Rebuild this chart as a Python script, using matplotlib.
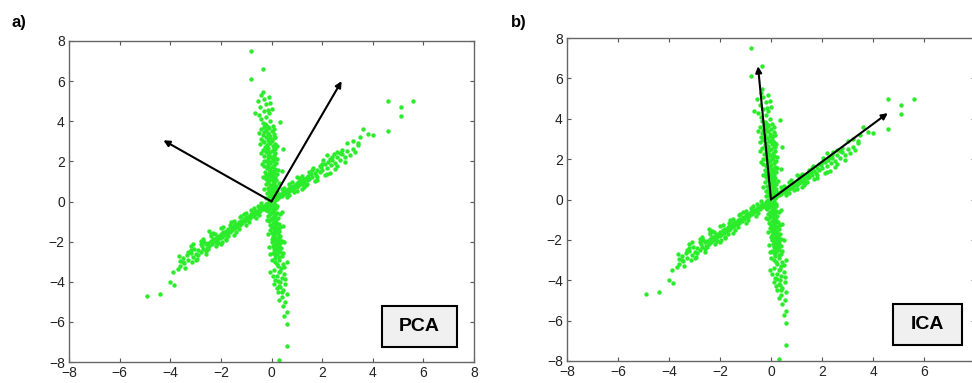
import numpy as np
import matplotlib.pyplot as plt
from matplotlib.patches import Rectangle

plt.rcParams['font.family'] = ['Liberation Sans', 'DejaVu Sans']

# --- Data (same cloud in both panels) ---
# near-vertical arm, upper half (x, y)
vert_upper = [
    (0.08, 0.12), (-0.1, 0.2), (0.15, 0.25), (-0.02, 0.3), (0.1, 0.35), (-0.18, 0.4), (0.04, 0.45),
    (0.2, 0.5), (-0.08, 0.55), (0.12, 0.6), (-0.15, 0.65), (0.02, 0.7), (0.18, 0.75), (-0.05, 0.8),
    (-0.22, 0.85), (0.1, 0.9), (-0.12, 0.95), (0.05, 1.0), (0.16, 1.05), (-0.2, 1.1), (-0.03, 1.15),
    (0.12, 1.2), (-0.14, 1.25), (0.02, 1.3), (0.2, 1.35), (-0.1, 1.4), (-0.25, 1.45), (0.08, 1.5),
    (-0.04, 1.55), (0.15, 1.6), (-0.18, 1.65), (0.0, 1.7), (-0.3, 1.75), (0.1, 1.8), (-0.12, 1.85),
    (0.18, 1.9), (-0.06, 1.95), (-0.22, 2.0), (0.05, 2.05), (-0.15, 2.1), (0.12, 2.15), (-0.02, 2.2),
    (-0.28, 2.25), (0.08, 2.3), (-0.1, 2.35), (0.15, 2.4), (-0.2, 2.45), (0.0, 2.5), (-0.35, 2.55),
    (0.1, 2.6), (-0.12, 2.65), (-0.25, 2.7), (0.05, 2.75), (-0.18, 2.8), (0.12, 2.85), (-0.05, 2.9),
    (-0.3, 2.95), (0.02, 3.0), (-0.15, 3.05), (-0.4, 3.1), (0.08, 3.15), (-0.22, 3.2), (-0.05, 3.25),
    (-0.35, 3.3), (0.1, 3.35), (-0.15, 3.4), (-0.3, 3.45), (0.0, 3.5), (-0.2, 3.55), (-0.42, 3.6),
    (-0.1, 3.65), (-0.28, 3.7), (0.05, 3.75), (-0.2, 3.8), (-0.05, 0.52), (0.06, 1.12), (-0.08, 1.62),
    (-0.14, 2.28), (-0.08, 2.92), (-0.12, 3.38), (0.0, 0.82), (-0.04, 1.92), (-0.2, 1.3), (0.14, 2.62),
    (0.25, 0.3), (-0.3, 0.6), (0.28, 0.9), (-0.32, 1.2), (0.25, 1.55), (-0.38, 1.85), (0.22, 2.1),
    (-0.42, 2.4), (0.2, 2.75), (-0.45, 2.85), (0.15, 3.2), (-0.5, 3.4), (0.1, 3.6), (-0.15, 0.4),
    (0.12, 0.7), (-0.1, 1.05), (0.1, 1.4), (-0.14, 1.75), (0.06, 2.0), (-0.18, 2.55), (-0.05, 3.15),
    (-0.25, 3.85), (0.0, 0.6), (-0.02, 1.25), (0.02, 1.45), (-0.3, 2.0), (-0.08, 2.45), (-0.32, 3.0),
    (-0.12, 3.7),
    (-0.35, 3.9), (-0.05, 4.0), (-0.4, 4.1), (-0.2, 4.2), (-0.5, 4.3), (-0.1, 4.4), (-0.3, 4.5),
    (0.0, 4.6), (-0.45, 4.7), (-0.2, 4.85), (-0.55, 5.0), (-0.3, 5.1), (-0.1, 5.2), (-0.4, 5.3),
    (-0.35, 5.45), (-0.15, 4.55), (0.35, 3.95), (0.45, 2.6), (0.4, 1.5), (-0.35, 6.6), (-0.8, 6.1),
    (-0.8, 7.5), (-0.65, 4.4), (-0.05, 4.9),
]
# near-vertical arm, lower half (x, y)
vert_lower = [
    (-0.05, -0.1), (0.12, -0.15), (-0.12, -0.2), (0.05, -0.25), (0.18, -0.3), (-0.08, -0.35),
    (0.1, -0.4), (-0.15, -0.45), (0.02, -0.5), (0.2, -0.55), (-0.05, -0.6), (0.14, -0.65),
    (-0.12, -0.7), (0.08, -0.75), (0.25, -0.8), (-0.02, -0.85), (0.12, -0.9), (-0.1, -0.95),
    (0.18, -1.0), (0.04, -1.05), (0.28, -1.1), (-0.06, -1.15), (0.12, -1.2), (0.0, -1.25),
    (0.22, -1.3), (0.08, -1.35), (-0.05, -1.4), (0.3, -1.45), (0.15, -1.5), (0.02, -1.55),
    (0.24, -1.6), (0.1, -1.65), (0.35, -1.7), (0.05, -1.75), (0.18, -1.8), (0.28, -1.85),
    (0.08, -1.9), (0.2, -1.95), (0.02, -2.0), (0.32, -2.05), (0.14, -2.1), (0.25, -2.15),
    (0.06, -2.2), (0.2, -2.25), (0.38, -2.3), (0.1, -2.35), (0.26, -2.4), (0.15, -2.45),
    (0.32, -2.5), (0.05, -2.55), (0.2, -2.6), (0.4, -2.7), (0.15, -2.8), (0.3, -2.9),
    (0.12, -3.0), (0.45, -3.1), (0.25, -3.2), (0.38, -3.3), (0.1, -3.4), (0.3, -3.5),
    (0.5, -3.6), (0.22, -3.7), (0.4, -3.8), (0.15, -3.9), (0.35, -4.0), (0.55, -4.1), (0.3, -4.2),
    (0.08, -0.72), (0.16, -1.12), (0.12, -1.42), (0.2, -2.02), (0.1, -1.02), (0.06, -0.32),
    (0.22, -2.35), (0.3, -2.75),
    (-0.2, -0.4), (0.32, -0.6), (-0.18, -0.9), (0.35, -1.25), (-0.12, -1.6), (0.4, -1.95),
    (-0.08, -2.25), (0.45, -2.55), (0.0, -2.9), (0.5, -3.25), (0.05, -3.7), (0.55, -3.85),
    (0.1, -4.1), (0.1, -0.55), (0.0, -0.8), (0.2, -1.35), (0.0, -1.85), (0.28, -1.75),
    (0.12, -2.65), (0.35, -3.45), (0.25, -3.95), (0.15, -0.98), (0.05, -1.55), (0.3, -2.2),
    (0.2, -3.1), (0.4, -4.5), (0.35, -4.25),
    (0.2, -4.3), (0.45, -4.4), (0.25, -4.5), (0.6, -4.6), (0.4, -4.75), (0.3, -4.9), (0.55, -5.0),
    (0.45, -5.2), (0.6, -5.5), (0.5, -5.7), (0.6, -6.1), (0.6, -7.2), (0.3, -7.9), (0.6, -3.0),
    (0.5, -2.0), (0.45, -1.2), (0.4, -0.5), (-0.05, -3.5), (-0.05, -2.6),
]
# dense centre where the two arms cross (x, y)
centre = [
    (0.0, 0.05), (0.1, -0.05), (-0.1, 0.0), (0.05, -0.15), (-0.05, 0.15), (0.15, 0.05),
    (-0.15, -0.05), (0.0, -0.3), (0.2, -0.2), (-0.2, 0.15), (0.08, 0.22), (-0.08, -0.22),
]
# diagonal arm, lower-left half (x, y)
diag_lower = [
    (-0.1, -0.12), (-0.2, -0.1), (-0.25, -0.3), (-0.3, -0.2), (-0.35, -0.35), (-0.4, -0.28),
    (-0.45, -0.45), (-0.5, -0.38), (-0.55, -0.52), (-0.6, -0.45), (-0.65, -0.62), (-0.7, -0.5),
    (-0.75, -0.7), (-0.8, -0.6), (-0.85, -0.8), (-0.9, -0.7), (-0.95, -0.88), (-1.0, -0.78),
    (-1.05, -0.98), (-1.1, -0.85), (-1.15, -1.05), (-1.2, -0.95), (-1.25, -1.15), (-1.3, -1.0),
    (-1.35, -1.22), (-1.4, -1.1), (-1.45, -1.3), (-1.5, -1.15), (-1.55, -1.4), (-1.6, -1.28),
    (-1.65, -1.5), (-1.7, -1.35), (-1.75, -1.55), (-1.8, -1.45), (-1.85, -1.68), (-1.9, -1.5),
    (-1.95, -1.75), (-2.0, -1.6), (-2.05, -1.82), (-2.1, -1.7), (-2.15, -1.95), (-2.2, -1.8),
    (-2.25, -2.02), (-2.3, -1.85), (-2.35, -2.1), (-2.4, -1.95), (-2.45, -2.2), (-2.5, -2.05),
    (-2.55, -2.3), (-2.6, -2.1), (-2.7, -2.35), (-2.75, -2.2), (-2.8, -2.5), (-2.9, -2.4),
    (-3.0, -2.6), (-3.05, -2.35), (-3.1, -2.75), (-3.2, -2.55), (-3.3, -2.9), (-3.35, -2.65),
    (-3.45, -3.05), (-3.5, -2.8), (-3.6, -3.2), (-3.65, -2.7), (-3.7, -3.35),
    (-0.62, -0.55), (-0.92, -0.8), (-1.22, -1.05), (-1.52, -1.3), (-1.82, -1.58), (-2.12, -1.82),
    (-0.32, -0.28), (-0.78, -0.62), (-1.38, -1.18),
    (-0.4, -0.05), (-0.6, -0.8), (-0.8, -0.4), (-1.0, -1.15), (-1.2, -0.7), (-1.4, -1.5),
    (-1.6, -1.0), (-1.8, -1.85), (-2.0, -1.3), (-2.2, -2.2), (-2.4, -1.7), (-2.6, -2.45),
    (-2.8, -2.1), (-3.0, -2.9), (-3.2, -2.4), (-0.5, -0.65), (-0.7, -0.3), (-0.9, -1.0),
    (-1.1, -0.6), (-1.3, -1.35), (-1.5, -0.95), (-1.7, -1.7), (-1.9, -1.25), (-2.1, -2.05),
    (-2.3, -1.55), (-2.5, -2.35), (-2.7, -1.85), (-2.9, -2.65), (-3.1, -2.1), (-3.3, -2.5),
    (-3.5, -3.0), (-3.15, -3.0), (-2.45, -1.45), (-1.95, -2.0), (-1.25, -0.75), (-0.55, -0.2),
    (-1.65, -1.15), (-2.25, -1.6), (-2.65, -2.0), (-3.6, -2.95),
    (-2.4, -1.6), (-2.0, -2.1), (-1.5, -1.65), (-1.0, -0.55), (-2.8, -1.95), (-3.2, -2.2),
    (-2.6, -2.6), (-1.8, -1.9), (-3.9, -3.5), (-4.0, -4.0), (-3.85, -4.15), (-4.4, -4.6),
    (-4.9, -4.7), (-3.4, -3.3), (-2.95, -2.85),
]
# diagonal arm, upper-right half (x, y)
diag_upper = [
    (0.1, 0.1), (0.15, 0.2), (0.2, 0.12), (0.25, 0.3), (0.3, 0.2), (0.35, 0.38), (0.4, 0.28),
    (0.45, 0.45), (0.5, 0.35), (0.55, 0.52), (0.6, 0.42), (0.65, 0.6), (0.7, 0.5), (0.75, 0.7),
    (0.8, 0.58), (0.85, 0.78), (0.9, 0.65), (0.95, 0.85), (1.0, 0.72), (1.05, 0.95), (1.1, 0.82),
    (1.15, 1.0), (1.2, 0.88), (1.25, 1.1), (1.3, 0.95), (1.35, 1.18), (1.4, 1.05), (1.45, 1.28),
    (1.5, 1.12), (1.55, 1.35), (1.6, 1.2), (1.7, 1.42), (1.75, 1.3), (1.8, 1.55), (1.9, 1.45),
    (1.95, 1.7), (2.0, 1.55), (2.1, 1.85), (2.2, 1.65), (2.25, 1.95), (2.35, 1.8), (2.4, 2.05),
    (2.5, 1.9), (2.6, 2.2), (2.7, 2.05), (2.8, 2.35), (2.9, 2.2), (3.0, 2.5), (3.1, 2.3),
    (0.52, 0.45), (0.82, 0.68), (1.12, 0.92), (1.42, 1.15), (0.32, 0.3), (0.68, 0.55),
    (0.4, 0.6), (0.6, 0.2), (0.8, 0.95), (1.0, 0.5), (1.2, 1.25), (1.4, 0.85), (1.6, 1.55),
    (1.8, 1.05), (2.0, 1.85), (2.2, 1.35), (2.4, 2.2), (2.6, 1.75), (2.8, 2.55), (0.5, 0.65),
    (0.7, 0.85), (0.9, 0.45), (1.1, 1.15), (1.3, 0.7), (1.5, 1.45), (1.7, 1.0), (1.9, 1.75),
    (2.1, 1.3), (2.3, 2.1), (2.5, 1.6), (2.7, 2.4), (2.9, 1.95), (3.2, 2.6), (3.3, 2.45),
    (1.65, 1.65), (2.05, 2.05), (2.45, 2.35), (3.4, 2.8), (1.35, 0.8),
    (2.2, 2.3), (2.6, 2.45), (3.0, 2.9), (3.2, 3.0), (3.4, 2.9), (3.6, 3.6), (3.8, 3.35),
    (3.5, 3.2), (4.0, 3.3), (4.6, 3.5), (4.6, 5.0), (5.1, 4.7), (5.1, 4.25), (5.6, 5.0),
    (1.2, 0.6), (0.7, 0.3), (1.8, 1.2), (2.3, 1.4), (1.0, 1.2),
]
# arrow tips (start at origin)
pca_vectors = [(-4.27, 3.05), (2.77, 6.0)]
ica_vectors = [(-0.51, 6.6), (4.58, 4.28)]
panel_names = ['PCA', 'ICA']
panel_tags = ['a)', 'b)']

pts = np.array(vert_upper + vert_lower + centre + diag_lower + diag_upper)

fig = plt.figure(figsize=(9.72, 3.83), dpi=100)
ax_pos = [[69/972, 21/383, 405/972, 321/383], [567/972, 22/383, 408/972, 323/383]]
box_pos = [(0.772, 0.046, 0.187, 0.128), (0.799, 0.048, 0.168, 0.127)]
tag_pos = [(11/972, 1 - 22/383), (511/972, 1 - 22/383)]

for k, vecs in enumerate([pca_vectors, ica_vectors]):
    ax = fig.add_axes(ax_pos[k])
    ax.scatter(pts[:, 0], pts[:, 1], s=10, color='#2aec2a', linewidths=0, zorder=2)
    for vx, vy in vecs:
        ax.annotate('', xy=(vx, vy), xytext=(0, 0),
                    arrowprops=dict(arrowstyle='-|>', color='black', lw=1.5,
                                    mutation_scale=9, shrinkA=0, shrinkB=0), zorder=3)
    ax.set_xlim(-8, 8)
    ax.set_ylim(-8, 8)
    ax.set_xticks(range(-8, 9, 2))
    ax.set_yticks(range(-8, 9, 2))
    ax.tick_params(direction='in', top=True, right=True, length=3, width=0.8,
                   colors='#555555', labelcolor='#222222', labelsize=10, pad=3)
    for sp in ax.spines.values():
        sp.set_color('#666666')
        sp.set_linewidth(1.0)
    bx, by, bw, bh = box_pos[k]
    ax.add_patch(Rectangle((bx, by), bw, bh, transform=ax.transAxes,
                           facecolor='#f0f0f0', edgecolor='black', lw=1.5, zorder=4))
    ax.text(bx + bw / 2, by + bh / 2, panel_names[k], transform=ax.transAxes,
            ha='center', va='center', fontsize=14, fontweight='bold', zorder=5)
    fig.text(tag_pos[k][0], tag_pos[k][1], panel_tags[k], fontsize=12,
             fontweight='bold', va='center', ha='left')

fig.savefig('out.png', dpi=100)
